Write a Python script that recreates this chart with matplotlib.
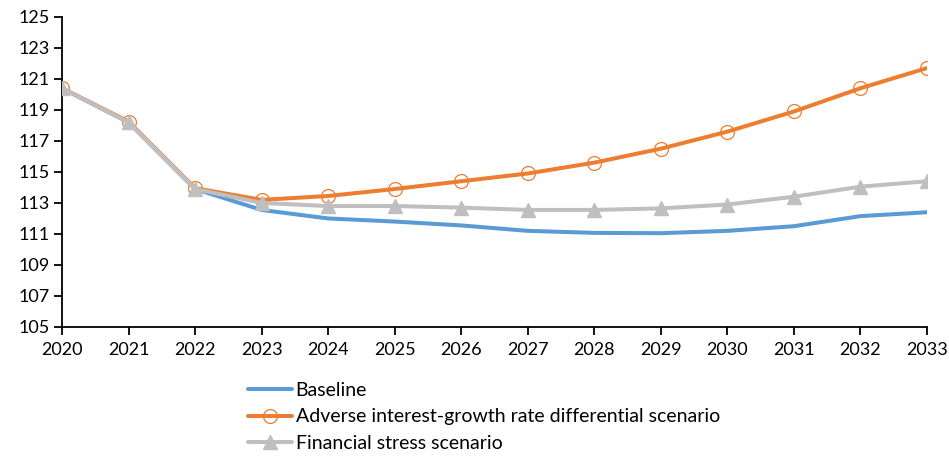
import numpy as np
import matplotlib
matplotlib.use("Agg")
import matplotlib.pyplot as plt

plt.rcParams['font.family'] = ['Lato', 'DejaVu Sans']

years = list(range(2020, 2034))
baseline = [120.4, 118.2, 113.9, 112.55, 112.0, 111.8, 111.55, 111.2,
            111.07, 111.05, 111.2, 111.5, 112.15, 112.4]
adverse_rg = [120.4, 118.25, 113.95, 113.2, 113.45, 113.9, 114.4, 114.9,
              115.6, 116.5, 117.6, 118.9, 120.4, 121.7]
fin_stress = [120.4, 118.2, 113.9, 113.0, 112.8, 112.8, 112.7, 112.55,
              112.55, 112.65, 112.9, 113.4, 114.05, 114.4]
series_labels = ["Baseline",
                 "Adverse interest-growth rate differential scenario",
                 "Financial stress scenario"]
yticks = list(range(105, 126, 2))

fig = plt.figure(figsize=(9.49, 4.57), dpi=100)
ax = fig.add_axes([0.0653, 0.2845, 0.9115, 0.6785])

ax.plot(years, baseline, color='#5B9BD5', lw=2.9, solid_capstyle='round',
        label=series_labels[0], zorder=2)
ax.plot(years, adverse_rg, color='#ED7D31', lw=2.9, solid_capstyle='round',
        marker='o', ms=10, mfc='none', mec='#ED7D31', mew=0.9,
        label=series_labels[1], zorder=3)
ax.plot(years, fin_stress, color='#BFBFBF', lw=2.9, solid_capstyle='round',
        marker='^', ms=10, mfc='#BFBFBF', mec='#BFBFBF',
        label=series_labels[2], zorder=4)

ax.set_xlim(2020, 2033)
ax.set_ylim(105, 125)
ax.set_xticks(years)
ax.set_yticks(yticks)
ax.tick_params(axis='both', labelsize=13, length=6, width=1.3,
               direction='out', colors='black')
ax.tick_params(axis='x', pad=5)
ax.tick_params(axis='y', pad=3)
for side in ('top', 'right'):
    ax.spines[side].set_visible(False)
for side in ('left', 'bottom'):
    ax.spines[side].set_linewidth(1.3)
    ax.spines[side].set_color('black')
for lbl in ax.get_xticklabels() + ax.get_yticklabels():
    lbl.set_clip_on(False)

fig.legend(loc='upper left', bbox_to_anchor=(0.261, 0.165),
           frameon=False, fontsize=14, handlelength=2.27, handletextpad=0.2,
           labelspacing=0.5, borderaxespad=0, borderpad=0)

fig.savefig('out.png', dpi=100)
